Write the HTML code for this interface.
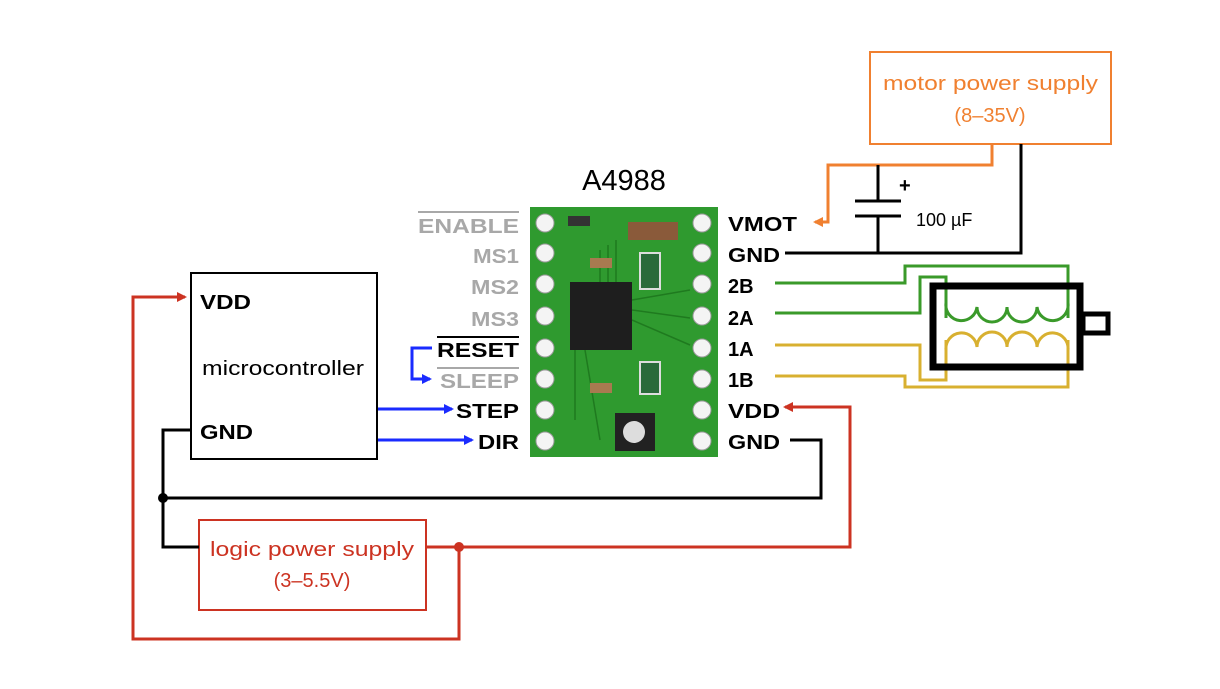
<!DOCTYPE html>
<html><head><meta charset="utf-8"><style>
body{margin:0;background:#fff}
svg{display:block}
text{font-family:"Liberation Sans",Arial,sans-serif}
.b{font-weight:bold;font-size:20px}
.g{fill:#a8a8a8;font-weight:bold;font-size:20px}
</style></head><body>
<svg width="1220" height="689" viewBox="0 0 1220 689" xmlns="http://www.w3.org/2000/svg">
<defs>
<marker id="ab" markerWidth="10" markerHeight="10" refX="8" refY="5" orient="auto" markerUnits="userSpaceOnUse"><path d="M0,0 L10,5 L0,10 z" fill="#1a2bff"/></marker>
<marker id="ar" markerWidth="10" markerHeight="10" refX="8" refY="5" orient="auto" markerUnits="userSpaceOnUse"><path d="M0,0 L10,5 L0,10 z" fill="#cc3322"/></marker>
<marker id="ao" markerWidth="10" markerHeight="10" refX="8" refY="5" orient="auto" markerUnits="userSpaceOnUse"><path d="M0,0 L10,5 L0,10 z" fill="#f08030"/></marker>
</defs>
<rect x="870" y="52" width="241" height="92" fill="none" stroke="#f08030" stroke-width="2"/>
<text x="883" y="90" fill="#f08030" font-size="20" textLength="215" lengthAdjust="spacingAndGlyphs">motor power supply</text>
<text x="990" y="122" text-anchor="middle" fill="#f08030" font-size="20">(8–35V)</text>
<polyline points="992,144 992,165 828,165 828,222 815,222" fill="none" stroke="#f08030" stroke-width="3" marker-end="url(#ao)"/>
<polyline points="1021,144 1021,253 785,253" fill="none" stroke="#000" stroke-width="3"/>
<line x1="878" y1="165" x2="878" y2="201" stroke="#000" stroke-width="3"/>
<line x1="855" y1="201" x2="901" y2="201" stroke="#000" stroke-width="3"/>
<line x1="855" y1="216" x2="901" y2="216" stroke="#000" stroke-width="3"/>
<line x1="878" y1="216" x2="878" y2="253" stroke="#000" stroke-width="3"/>
<text x="899" y="192" font-size="20" font-weight="bold">+</text>
<text x="916" y="226" font-size="18">100 µF</text>
<text x="624" y="190" text-anchor="middle" font-size="29">A4988</text>
<rect x="530" y="207" width="188" height="250" fill="#2f9a2f"/>
<g stroke="#1f7a1f" stroke-width="1.5" fill="none">
<path d="M600,282 L600,250 M608,282 L608,245 M616,282 L616,240 M632,300 L690,290 M632,310 L690,318 M632,320 L690,345 M575,350 L575,420 M585,350 L600,440"/>
</g>
<rect x="570" y="282" width="62" height="68" fill="#1e1e1e"/>
<rect x="628" y="222" width="50" height="18" fill="#8a5a3a"/>
<rect x="640" y="253" width="20" height="36" fill="#2a6a3a" stroke="#ddd" stroke-width="2"/>
<rect x="640" y="362" width="20" height="32" fill="#2a6a3a" stroke="#ddd" stroke-width="2"/>
<rect x="590" y="258" width="22" height="10" fill="#a87a50"/>
<rect x="590" y="383" width="22" height="10" fill="#a87a50"/>
<rect x="568" y="216" width="22" height="10" fill="#333"/>
<rect x="615" y="413" width="40" height="38" fill="#222"/>
<circle cx="634" cy="432" r="11" fill="#ddd"/>
<g fill="#f4f4f4" stroke="#999" stroke-width="1">
<circle cx="545" cy="223" r="9"/><circle cx="545" cy="253" r="9"/><circle cx="545" cy="284" r="9"/><circle cx="545" cy="316" r="9"/><circle cx="545" cy="348" r="9"/><circle cx="545" cy="379" r="9"/><circle cx="545" cy="410" r="9"/><circle cx="545" cy="441" r="9"/>
<circle cx="702" cy="223" r="9"/><circle cx="702" cy="253" r="9"/><circle cx="702" cy="284" r="9"/><circle cx="702" cy="316" r="9"/><circle cx="702" cy="348" r="9"/><circle cx="702" cy="379" r="9"/><circle cx="702" cy="410" r="9"/><circle cx="702" cy="441" r="9"/>
</g>
<text x="418" y="233" class="g" textLength="101" lengthAdjust="spacingAndGlyphs">ENABLE</text>
<line x1="418" y1="212" x2="519" y2="212" stroke="#a8a8a8" stroke-width="2"/>
<text x="473" y="263" class="g" textLength="46" lengthAdjust="spacingAndGlyphs">MS1</text>
<text x="471" y="294" class="g" textLength="48" lengthAdjust="spacingAndGlyphs">MS2</text>
<text x="471" y="326" class="g" textLength="48" lengthAdjust="spacingAndGlyphs">MS3</text>
<text x="437" y="357" class="b" textLength="82" lengthAdjust="spacingAndGlyphs">RESET</text>
<line x1="437" y1="337" x2="519" y2="337" stroke="#000" stroke-width="2"/>
<text x="440" y="388" class="g" textLength="79" lengthAdjust="spacingAndGlyphs">SLEEP</text>
<line x1="437" y1="368" x2="519" y2="368" stroke="#a8a8a8" stroke-width="2"/>
<text x="456" y="418" class="b" textLength="63" lengthAdjust="spacingAndGlyphs">STEP</text>
<text x="478" y="449" class="b" textLength="41" lengthAdjust="spacingAndGlyphs">DIR</text>
<polyline points="432,348 412,348 412,379 430,379" fill="none" stroke="#1a2bff" stroke-width="3" marker-end="url(#ab)"/>
<line x1="378" y1="409" x2="452" y2="409" stroke="#1a2bff" stroke-width="3" marker-end="url(#ab)"/>
<line x1="378" y1="440" x2="472" y2="440" stroke="#1a2bff" stroke-width="3" marker-end="url(#ab)"/>
<text x="728" y="231" class="b" textLength="69" lengthAdjust="spacingAndGlyphs">VMOT</text>
<text x="728" y="262" class="b" textLength="52" lengthAdjust="spacingAndGlyphs">GND</text>
<text x="728" y="293" class="b">2B</text><text x="728" y="325" class="b">2A</text><text x="728" y="356" class="b">1A</text><text x="728" y="387" class="b">1B</text>
<text x="728" y="418" class="b" textLength="52" lengthAdjust="spacingAndGlyphs">VDD</text>
<text x="728" y="449" class="b" textLength="52" lengthAdjust="spacingAndGlyphs">GND</text>
<g fill="none" stroke-width="3">
<polyline points="775,283 905,283 905,266 1068,266 1068,318" stroke="#3a9a2a"/>
<polyline points="775,313 920,313 920,277 946,277 946,318" stroke="#3a9a2a"/>
<path d="M946,303 A15,15 0 0 0 977,307 A15,15 0 0 0 1007,307 A15,15 0 0 0 1037,307 A15,15 0 0 0 1068,303" stroke="#3a9a2a"/>
<polyline points="775,345 920,345 920,380 946,380 946,340" stroke="#d8b030"/>
<polyline points="775,376 905,376 905,387 1068,387 1068,340" stroke="#d8b030"/>
<path d="M946,350 A15,15 0 0 1 977,347 A15,15 0 0 1 1007,347 A15,15 0 0 1 1037,347 A15,15 0 0 1 1068,350" stroke="#d8b030"/>
</g>
<rect x="933" y="286" width="147" height="81" fill="none" stroke="#000" stroke-width="7"/>
<rect x="1083" y="314" width="25" height="19" fill="none" stroke="#000" stroke-width="5"/>
<rect x="191" y="273" width="186" height="186" fill="none" stroke="#000" stroke-width="2"/>
<text x="200" y="309" class="b" textLength="51" lengthAdjust="spacingAndGlyphs">VDD</text>
<text x="202" y="375" font-size="20" textLength="162" lengthAdjust="spacingAndGlyphs">microcontroller</text>
<text x="200" y="439" class="b" textLength="53" lengthAdjust="spacingAndGlyphs">GND</text>
<rect x="199" y="520" width="227" height="90" fill="none" stroke="#cc3322" stroke-width="2"/>
<text x="210" y="556" fill="#cc3322" font-size="20" textLength="204" lengthAdjust="spacingAndGlyphs">logic power supply</text>
<text x="312" y="587" text-anchor="middle" fill="#cc3322" font-size="20">(3–5.5V)</text>
<polyline points="190,430 163,430 163,547 199,547" fill="none" stroke="#000" stroke-width="3"/>
<polyline points="163,498 821,498 821,440 790,440" fill="none" stroke="#000" stroke-width="3"/>
<circle cx="163" cy="498" r="5" fill="#000"/>
<polyline points="426,547 850,547 850,407 785,407" fill="none" stroke="#cc3322" stroke-width="3" marker-end="url(#ar)"/>
<circle cx="459" cy="547" r="5" fill="#cc3322"/>
<polyline points="459,547 459,639 133,639 133,297 185,297" fill="none" stroke="#cc3322" stroke-width="3" marker-end="url(#ar)"/>
</svg>
</body></html>
